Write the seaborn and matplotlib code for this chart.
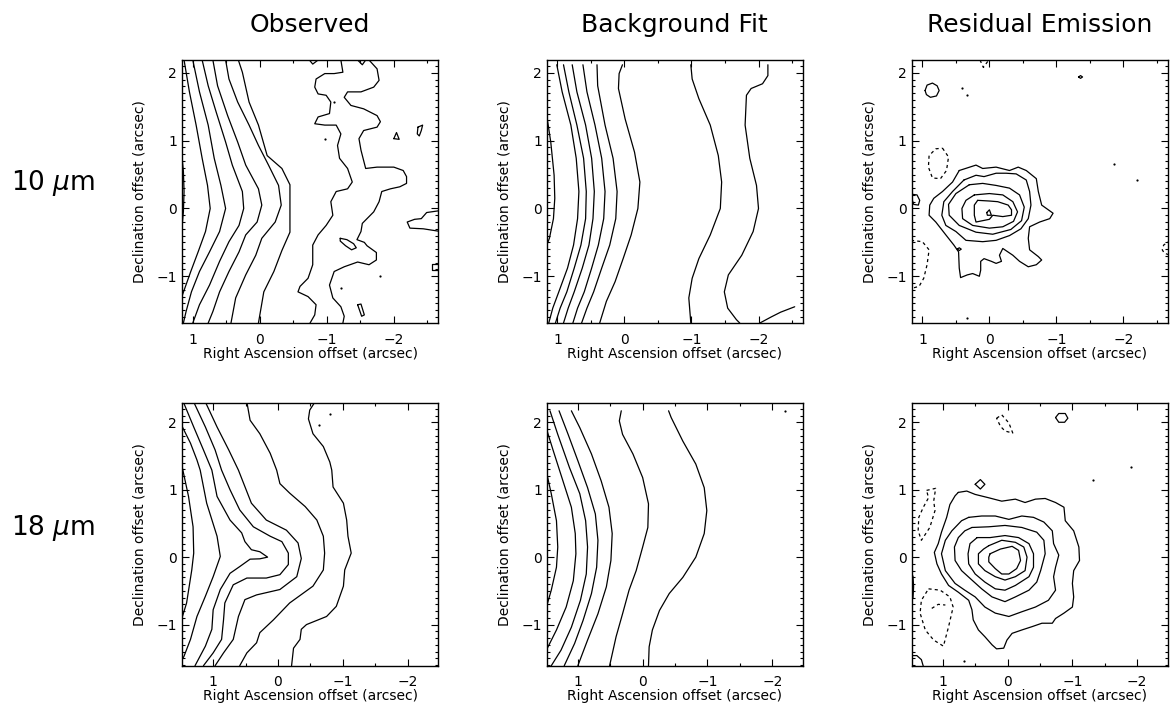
import numpy as np
import pandas as pd
import matplotlib
matplotlib.use("Agg")
import matplotlib.pyplot as plt
from matplotlib.ticker import MultipleLocator
import seaborn as sns

# contour vertices, (RA offset, Dec offset) in arcsec

# ---- 10 um, observed ----
obs10_edge = [(1.17, 0.85), (1.14, 0.55), (1.13, 0.25), (1.14, -0.05), (1.17, -0.37)]
obs10_a = [(1.13, 2.19), (1.05, 1.72), (0.95, 1.23), (0.86, 0.74), (0.78, 0.34), (0.74, 0.0), (0.81, -0.34),
           (0.92, -0.64), (1.03, -0.93), (1.12, -1.18), (1.17, -1.32)]
obs10_b = [(1.00, 2.19), (0.90, 1.72), (0.77, 1.23), (0.68, 0.74), (0.58, 0.34), (0.51, 0.0), (0.60, -0.34),
           (0.75, -0.64), (0.90, -0.93), (1.02, -1.23), (1.10, -1.52), (1.14, -1.69)]
obs10_c = [(0.86, 2.19), (0.77, 1.81), (0.65, 1.42), (0.51, 0.98), (0.41, 0.64), (0.26, 0.25), (0.24, 0.0),
           (0.31, -0.25), (0.46, -0.49), (0.60, -0.78), (0.75, -1.13), (0.90, -1.42), (1.00, -1.69)]
obs10_d = [(0.70, 2.19), (0.63, 1.81), (0.48, 1.37), (0.33, 0.98), (0.21, 0.64), (0.02, 0.29), (-0.03, 0.05),
           (0.04, -0.20), (0.21, -0.39), (0.31, -0.64), (0.46, -0.93), (0.60, -1.23), (0.70, -1.52), (0.77, -1.69)]
obs10_e = [(0.51, 2.19), (0.46, 1.91), (0.33, 1.57), (0.16, 1.23), (0.02, 0.93), (-0.13, 0.64), (-0.28, 0.34),
           (-0.32, 0.05), (-0.23, -0.20), (-0.03, -0.44), (0.06, -0.69), (0.21, -0.98), (0.36, -1.32), (0.43, -1.69)]
obs10_f = [(0.32, 2.19), (0.26, 2.01), (0.16, 1.57), (0.02, 1.23), (-0.11, 0.78), (-0.33, 0.59), (-0.45, 0.35),
           (-0.45, -0.35), (-0.33, -0.62), (-0.21, -0.93), (-0.06, -1.23), (0.02, -1.69)]
obs10_m1 = [(-1.21, 2.19), (-1.24, 2.01), (-1.11, 1.99), (-0.97, 1.99), (-0.84, 1.91), (-0.82, 1.79), (-0.87, 1.69),
            (-0.99, 1.67), (-1.06, 1.57), (-1.04, 1.40), (-0.87, 1.35), (-0.82, 1.25), (-0.97, 1.23), (-1.14, 1.23),
            (-1.21, 1.10), (-1.16, 0.93), (-1.19, 0.74), (-1.31, 0.59), (-1.38, 0.39), (-1.31, 0.29), (-1.14, 0.25),
            (-1.06, 0.10), (-1.09, -0.10), (-0.99, -0.25), (-0.87, -0.39), (-0.79, -0.54), (-0.79, -0.83),
            (-0.72, -1.03), (-0.60, -1.15), (-0.57, -1.23), (-0.72, -1.30), (-0.84, -1.42), (-0.82, -1.57),
            (-0.75, -1.69)]
obs10_m2 = [(-1.63, 2.19), (-1.75, 2.06), (-1.78, 1.89), (-1.70, 1.79), (-1.51, 1.72), (-1.31, 1.72), (-1.26, 1.64),
            (-1.36, 1.52), (-1.55, 1.47), (-1.75, 1.37), (-1.80, 1.28), (-1.75, 1.20), (-1.55, 1.15), (-1.48, 1.03),
            (-1.51, 0.86), (-1.58, 0.59), (-1.75, 0.61), (-2.00, 0.61), (-2.14, 0.56), (-2.19, 0.47), (-2.19, 0.37),
            (-2.09, 0.32), (-1.95, 0.29), (-1.82, 0.25), (-1.78, 0.10), (-1.70, -0.05), (-1.63, -0.12),
            (-1.53, -0.22), (-1.51, -0.34), (-1.45, -0.46), (-1.56, -0.50), (-1.60, -0.55), (-1.74, -0.65),
            (-1.74, -0.76), (-1.63, -0.83), (-1.46, -0.79), (-1.26, -0.86), (-1.11, -0.93), (-1.04, -1.13),
            (-1.09, -1.32), (-1.21, -1.45), (-1.26, -1.59), (-1.24, -1.69)]
obs10_t1 = [(-0.74, 2.19), (-0.79, 2.13), (-0.87, 2.19)]
obs10_t2 = [(-1.46, 2.19), (-1.53, 2.12), (-1.58, 2.19)]
obs10_redge = [(-2.70, -0.03), (-2.49, -0.06), (-2.41, -0.15), (-2.31, -0.16), (-2.20, -0.20), (-2.24, -0.29),
               (-2.44, -0.30), (-2.70, -0.34)]
obs10_rbox = [(-2.70, -0.82), (-2.57, -0.82), (-2.57, -0.91), (-2.70, -0.91)]
obs10_tri = [(-2.00, 1.03), (-2.04, 1.12), (-2.08, 1.02)]
obs10_sml = [(-2.36, 1.20), (-2.43, 1.23), (-2.41, 1.15), (-2.38, 1.07), (-2.35, 1.10)]
obs10_la = [(-1.20, -0.44), (-1.30, -0.46), (-1.40, -0.52), (-1.44, -0.58), (-1.37, -0.61), (-1.28, -0.55),
            (-1.20, -0.48)]
obs10_le = [(-1.46, -1.42), (-1.51, -1.41), (-1.56, -1.57), (-1.52, -1.59)]
obs10_dots = [(-1.80, -1.00), (-1.21, -1.18), (-0.97, 1.03), (-1.11, 1.57)]

# ---- 10 um, background fit ----
bg10_g0 = [(1.17, 1.45), (1.16, 1.37), (1.10, 0.98), (1.05, 0.49), (1.04, 0.15), (1.06, -0.15), (1.12, -0.44),
           (1.16, -0.54), (1.17, -0.60)]
bg10_g1 = [(1.01, 2.12), (0.93, 1.72), (0.80, 1.23), (0.72, 0.74), (0.68, 0.25), (0.70, -0.15), (0.76, -0.54),
           (0.85, -0.88), (0.98, -1.23), (1.07, -1.47), (1.13, -1.69)]
bg10_g2 = [(0.91, 2.12), (0.83, 1.72), (0.71, 1.23), (0.61, 0.74), (0.57, 0.25), (0.58, -0.15), (0.65, -0.54),
           (0.75, -0.88), (0.86, -1.23), (0.96, -1.47), (1.03, -1.69)]
bg10_g3 = [(0.78, 2.12), (0.71, 1.72), (0.58, 1.23), (0.49, 0.74), (0.45, 0.25), (0.47, -0.15), (0.53, -0.54),
           (0.63, -0.88), (0.75, -1.23), (0.84, -1.47), (0.91, -1.69)]
bg10_g4 = [(0.62, 2.12), (0.56, 1.72), (0.44, 1.23), (0.34, 0.74), (0.29, 0.25), (0.31, -0.15), (0.39, -0.54),
           (0.49, -0.88), (0.60, -1.23), (0.70, -1.47), (0.77, -1.69)]
bg10_g5 = [(0.41, 2.12), (0.40, 1.81), (0.29, 1.23), (0.17, 0.74), (0.11, 0.25), (0.13, -0.15), (0.22, -0.54),
           (0.34, -0.88), (0.46, -1.23), (0.56, -1.47), (0.64, -1.69)]
bg10_g6 = [(0.03, 2.12), (0.08, 1.99), (0.09, 1.77), (-0.01, 1.32), (-0.15, 0.83), (-0.23, 0.39), (-0.20, 0.0),
           (-0.10, -0.39), (0.02, -0.74), (0.14, -1.08), (0.27, -1.37), (0.37, -1.69)]
bg10_g7 = [(-0.99, 2.12), (-1.01, 1.91), (-1.11, 1.62), (-1.28, 1.23), (-1.40, 0.78), (-1.45, 0.39), (-1.43, 0.0),
           (-1.28, -0.39), (-1.11, -0.74), (-1.01, -1.03), (-0.96, -1.32), (-0.99, -1.69)]
bg10_g8 = [(-2.14, 2.12), (-2.14, 1.96), (-2.06, 1.84), (-1.89, 1.77), (-1.82, 1.67), (-1.80, 1.23), (-1.87, 0.74),
           (-1.97, 0.34), (-2.00, 0.0), (-1.92, -0.34), (-1.75, -0.69), (-1.55, -0.98), (-1.49, -1.23),
           (-1.54, -1.47), (-1.67, -1.64), (-1.72, -1.69)]
bg10_g9 = [(-2.54, -1.45), (-2.33, -1.53), (-2.19, -1.60), (-2.02, -1.69)]

# ---- 10 um, residual emission ----
res10_s1 = [(0.45, 0.56), (0.20, 0.64), (0.10, 0.59), (-0.10, 0.61), (-0.30, 0.56), (-0.43, 0.61), (-0.55, 0.56),
            (-0.70, 0.44), (-0.73, 0.25), (-0.78, 0.05), (-0.95, -0.07), (-0.90, -0.15), (-0.75, -0.20),
            (-0.60, -0.27), (-0.58, -0.44), (-0.60, -0.61), (-0.73, -0.71), (-0.78, -0.76), (-0.70, -0.83),
            (-0.58, -0.86), (-0.45, -0.78), (-0.35, -0.69), (-0.20, -0.59), (-0.15, -0.69), (-0.18, -0.78),
            (-0.10, -0.81), (-0.03, -0.78), (0.08, -0.74), (0.13, -0.78), (0.13, -0.91), (0.15, -1.00),
            (0.25, -0.96), (0.33, -0.98), (0.43, -1.02), (0.45, -0.88), (0.46, -0.64), (0.53, -0.54),
            (0.65, -0.39), (0.80, -0.20), (0.90, -0.10), (0.89, 0.05), (0.83, 0.15), (0.70, 0.25), (0.55, 0.39)]
res10_s2 = [(0.38, 0.42), (0.20, 0.49), (0.08, 0.47), (-0.10, 0.52), (-0.25, 0.52), (-0.40, 0.51), (-0.55, 0.42),
            (-0.60, 0.25), (-0.62, 0.05), (-0.58, -0.15), (-0.47, -0.30), (-0.30, -0.40), (-0.10, -0.47),
            (0.10, -0.49), (0.35, -0.47), (0.50, -0.34), (0.65, -0.25), (0.71, -0.10), (0.68, 0.10), (0.55, 0.25)]
res10_s3 = [(0.30, 0.35), (0.10, 0.37), (-0.10, 0.34), (-0.30, 0.30), (-0.45, 0.20), (-0.52, 0.02), (-0.48, -0.18),
            (-0.32, -0.31), (-0.05, -0.38), (0.20, -0.35), (0.45, -0.25), (0.60, -0.10), (0.61, 0.06), (0.50, 0.22)]
res10_s4 = [(0.225, 0.20), (0.0, 0.22), (-0.20, 0.20), (-0.35, 0.10), (-0.42, -0.05), (-0.36, -0.19), (-0.20, -0.27),
            (0.0, -0.29), (0.25, -0.25), (0.40, -0.15), (0.41, 0.0), (0.35, 0.12)]
res10_s5 = [(0.175, 0.12), (0.0, 0.11), (-0.125, 0.10), (-0.28, 0.05), (-0.33, -0.02), (-0.33, -0.10),
            (-0.20, -0.12), (-0.05, -0.10), (0.0, -0.16), (0.20, -0.20), (0.225, -0.10), (0.225, 0.05)]
res10_s6 = [(0.04, -0.06), (0.0, -0.02), (-0.03, -0.10), (0.03, -0.10)]
res10_circ = [(0.96, 1.74), (0.93, 1.82), (0.85, 1.85), (0.78, 1.81), (0.75, 1.74), (0.79, 1.66), (0.88, 1.64),
              (0.94, 1.68)]
res10_edge = [(1.16, 0.21), (1.08, 0.20), (1.04, 0.12), (1.06, 0.05), (1.13, 0.06), (1.16, 0.15)]
res10_l2 = [(-1.33, 1.94), (-1.36, 1.96), (-1.39, 1.94), (-1.36, 1.92)]
res10_l3 = [(0.48, -0.60), (0.45, -0.58), (0.42, -0.60), (0.45, -0.62)]
res10_n1 = [(0.70, 0.89), (0.61, 0.76), (0.64, 0.56), (0.73, 0.44), (0.85, 0.45), (0.91, 0.61), (0.90, 0.78),
            (0.80, 0.88)]
res10_n2 = [(1.17, -0.47), (1.00, -0.49), (0.90, -0.61), (0.93, -0.83), (0.98, -1.03), (1.05, -1.15), (1.17, -1.18)]
res10_n3 = [(0.14, 2.19), (0.09, 2.08), (0.01, 2.19)]
res10_n4 = [(-2.70, -0.47), (-2.60, -0.54), (-2.58, -0.61), (-2.61, -0.66), (-2.70, -0.69)]
res10_dots = [(0.41, 1.77), (0.33, 1.68), (-2.20, 0.42), (-1.86, 0.66), (0.33, -1.61)]

# ---- 18 um, observed ----
obs18_h0 = [(1.49, 1.39), (1.38, 0.90), (1.31, 0.45), (1.30, 0.06), (1.33, -0.19), (1.41, -0.68), (1.49, -0.93)]
obs18_a = [(1.49, 1.96), (1.35, 1.69), (1.25, 1.44), (1.20, 1.29), (1.10, 0.80), (0.94, 0.31), (0.89, 0.01),
           (1.00, -0.29), (1.12, -0.58), (1.25, -0.88), (1.35, -1.22), (1.45, -1.47), (1.49, -1.54)]
obs18_b = [(1.46, 2.30), (1.30, 1.93), (1.15, 1.59), (1.02, 1.29), (0.94, 0.90), (0.74, 0.55), (0.56, 0.36),
           (0.51, 0.23), (0.41, 0.11), (0.28, 0.08), (0.16, 0.0), (0.28, -0.025), (0.43, -0.03), (0.59, -0.14),
           (0.74, -0.24), (0.89, -0.48), (1.00, -0.78), (1.02, -1.07), (1.12, -1.32), (1.28, -1.61)]
obs18_c = [(1.30, 2.30), (1.12, 1.93), (0.97, 1.59), (0.87, 1.29), (0.74, 1.00), (0.59, 0.70), (0.38, 0.45),
           (0.12, 0.31), (-0.06, 0.23), (-0.16, 0.06), (-0.16, -0.11), (-0.03, -0.26), (0.18, -0.31),
           (0.48, -0.31), (0.69, -0.41), (0.82, -0.68), (0.84, -0.93), (0.87, -1.22), (1.00, -1.42), (1.15, -1.61)]
obs18_d = [(1.12, 2.30), (0.94, 1.93), (0.76, 1.59), (0.61, 1.29), (0.41, 0.80), (0.18, 0.55), (-0.13, 0.40),
           (-0.31, 0.21), (-0.36, -0.02), (-0.29, -0.29), (-0.03, -0.48), (0.33, -0.56), (0.51, -0.63),
           (0.61, -0.88), (0.69, -1.22), (0.84, -1.42), (0.97, -1.61)]
obs18_e = [(0.48, 2.30), (0.43, 2.03), (0.28, 1.83), (0.12, 1.54), (0.02, 1.29), (-0.03, 1.09), (-0.18, 0.95),
           (-0.42, 0.75), (-0.60, 0.55), (-0.70, 0.31), (-0.72, 0.06), (-0.70, -0.19), (-0.54, -0.43),
           (-0.18, -0.68), (0.07, -0.93), (0.28, -1.12), (0.33, -1.27), (0.48, -1.42), (0.59, -1.61)]
obs18_f = [(-0.57, 2.30), (-0.49, 2.18), (-0.47, 2.05), (-0.54, 1.83), (-0.70, 1.64), (-0.80, 1.41), (-0.83, 1.29),
           (-0.85, 1.04), (-1.01, 0.80), (-1.06, 0.55), (-1.08, 0.31), (-1.13, 0.06), (-1.03, -0.19),
           (-1.01, -0.43), (-0.90, -0.73), (-0.75, -0.88), (-0.44, -1.00), (-0.36, -1.07), (-0.34, -1.22),
           (-0.24, -1.35), (-0.21, -1.61)]
obs18_dots = [(-0.81, 2.12), (-0.64, 1.96)]

# ---- 18 um, background fit ----
bg18_k0 = [(1.50, 1.33), (1.41, 0.94), (1.33, 0.54), (1.31, 0.15), (1.33, -0.15), (1.41, -0.49), (1.50, -0.79)]
bg18_k1 = [(1.50, 1.95), (1.38, 1.58), (1.23, 1.13), (1.10, 0.74), (1.04, 0.35), (1.03, 0.05), (1.07, -0.35),
           (1.18, -0.74), (1.33, -1.08), (1.46, -1.33), (1.50, -1.40)]
bg18_k2 = [(1.43, 2.17), (1.31, 1.82), (1.13, 1.33), (0.97, 0.94), (0.88, 0.54), (0.85, 0.15), (0.87, -0.25),
           (0.96, -0.64), (1.10, -1.04), (1.26, -1.38), (1.41, -1.61)]
bg18_k3 = [(1.29, 2.17), (1.15, 1.82), (1.00, 1.43), (0.85, 1.03), (0.73, 0.64), (0.69, 0.25), (0.71, -0.15),
           (0.79, -0.54), (0.92, -0.94), (1.05, -1.28), (1.21, -1.61)]
bg18_k4 = [(1.10, 2.17), (0.97, 1.92), (0.79, 1.53), (0.64, 1.13), (0.52, 0.74), (0.47, 0.35), (0.49, -0.05),
           (0.56, -0.44), (0.69, -0.84), (0.85, -1.23), (1.00, -1.61)]
bg18_k5 = [(0.33, 2.17), (0.36, 2.02), (0.31, 1.82), (0.15, 1.53), (0.0, 1.18), (-0.09, 0.79), (-0.08, 0.44),
           (0.0, 0.15), (0.10, -0.20), (0.21, -0.49), (0.31, -0.84), (0.41, -1.18), (0.51, -1.61)]
bg18_k6 = [(-0.40, 2.17), (-0.44, 2.07), (-0.62, 1.72), (-0.82, 1.38), (-0.95, 1.03), (-0.99, 0.69), (-0.95, 0.35),
           (-0.82, 0.0), (-0.62, -0.30), (-0.41, -0.54), (-0.26, -0.79), (-0.15, -1.08), (-0.10, -1.33),
           (-0.09, -1.61)]
bg18_dots = [(-2.20, 2.17)]

# ---- 18 um, residual emission ----
res18_p1 = [(0.76, 0.96), (0.63, 0.98), (0.50, 0.93), (0.29, 0.88), (0.09, 0.83), (-0.12, 0.86), (-0.27, 0.81),
            (-0.43, 0.86), (-0.58, 0.87), (-0.74, 0.81), (-0.87, 0.74), (-0.89, 0.54), (-1.02, 0.39), (-1.10, 0.15),
            (-1.11, -0.05), (-1.02, -0.20), (-1.00, -0.39), (-1.02, -0.59), (-1.00, -0.74), (-0.87, -0.83),
            (-0.74, -0.91), (-0.69, -0.98), (-0.53, -0.98), (-0.38, -1.03), (-0.22, -1.08), (-0.07, -1.13),
            (0.01, -1.23), (0.06, -1.35), (0.17, -1.36), (0.24, -1.30), (0.35, -1.18), (0.45, -1.08), (0.53, -0.93),
            (0.55, -0.78), (0.60, -0.64), (0.76, -0.52), (0.91, -0.42), (1.02, -0.25), (1.09, -0.10), (1.13, 0.07),
            (1.07, 0.20), (1.02, 0.37), (0.94, 0.59), (0.89, 0.78), (0.81, 0.91)]
res18_p2 = [(0.60, 0.59), (0.40, 0.61), (0.19, 0.61), (-0.02, 0.56), (-0.22, 0.61), (-0.40, 0.59), (-0.56, 0.52),
            (-0.69, 0.39), (-0.71, 0.20), (-0.79, 0.03), (-0.74, -0.15), (-0.71, -0.29), (-0.74, -0.49),
            (-0.63, -0.64), (-0.43, -0.74), (-0.22, -0.81), (-0.02, -0.88), (0.19, -0.83), (0.35, -0.74),
            (0.50, -0.59), (0.66, -0.49), (0.81, -0.39), (0.96, -0.20), (1.02, 0.05), (0.96, 0.25), (0.86, 0.39),
            (0.71, 0.54)]
res18_p3 = [(0.55, 0.44), (0.29, 0.45), (0.04, 0.47), (-0.22, 0.44), (-0.45, 0.37), (-0.56, 0.25), (-0.58, 0.05),
            (-0.51, -0.20), (-0.45, -0.37), (-0.33, -0.49), (-0.12, -0.59), (0.04, -0.66), (0.24, -0.59),
            (0.40, -0.47), (0.55, -0.34), (0.71, -0.20), (0.81, -0.05), (0.82, 0.15), (0.76, 0.29), (0.66, 0.39)]
res18_p4 = [(0.47, 0.29), (0.27, 0.29), (0.04, 0.32), (-0.17, 0.29), (-0.33, 0.20), (-0.40, 0.05), (-0.40, -0.15),
            (-0.33, -0.29), (-0.12, -0.42), (0.04, -0.49), (0.19, -0.47), (0.35, -0.37), (0.50, -0.25),
            (0.60, -0.10), (0.61, 0.05), (0.58, 0.20)]
res18_p5 = [(0.29, 0.17), (0.09, 0.25), (-0.12, 0.22), (-0.25, 0.15), (-0.30, 0.0), (-0.27, -0.20), (-0.12, -0.29),
            (0.04, -0.34), (0.19, -0.29), (0.35, -0.20), (0.45, -0.10), (0.45, 0.05), (0.37, 0.12)]
res18_p6 = [(0.27, 0.05), (0.11, 0.12), (-0.07, 0.16), (-0.17, 0.10), (-0.20, -0.05), (-0.14, -0.17), (-0.02, -0.25),
            (0.09, -0.25), (0.19, -0.17), (0.29, -0.07), (0.29, 0.0)]
res18_diam = [(0.50, 1.08), (0.42, 1.15), (0.35, 1.08), (0.42, 1.01)]
res18_circ = [(-0.74, 2.07), (-0.79, 2.13), (-0.89, 2.13), (-0.93, 2.06), (-0.88, 2.00), (-0.79, 2.00)]
res18_corner = [(1.50, -1.46), (1.40, -1.46), (1.33, -1.52), (1.30, -1.62)]
res18_rect = [(1.50, -0.27), (1.46, -0.28), (1.45, -0.44), (1.46, -0.61), (1.50, -0.61)]
res18_q1 = [(0.17, 2.06), (0.09, 2.11), (-0.02, 1.99), (-0.08, 1.84), (0.04, 1.87), (0.11, 1.94)]
res18_q2 = [(1.25, 0.99), (1.11, 1.02), (1.14, 0.83), (1.12, 0.69), (1.20, 0.44), (1.33, 0.25), (1.38, 0.39),
            (1.37, 0.59), (1.30, 0.74), (1.22, 0.88)]
res18_q3 = [(1.22, -0.47), (1.04, -0.49), (0.89, -0.59), (0.84, -0.74), (0.91, -1.03), (0.99, -1.32), (1.14, -1.23),
            (1.27, -1.08), (1.35, -0.83), (1.33, -0.64)]
res18_q3in = [(1.17, -0.76), (1.07, -0.70), (0.96, -0.71)]
res18_dots = [(-1.90, 1.33), (-1.32, 1.15), (0.68, -1.54)]

col_titles = ["Observed", "Background Fit", "Residual Emission"]
row_labels = ["10 $\\mu$m", "18 $\\mu$m"]

# panel -> (kind, closed, contours)
panels = [
    [("pos", False, [obs10_edge, obs10_a, obs10_b, obs10_c, obs10_d, obs10_e, obs10_f, obs10_m1, obs10_m2,
                     obs10_t1, obs10_t2, obs10_redge, obs10_rbox]),
     ("pos", True, [obs10_tri, obs10_sml, obs10_la, obs10_le])],
    [("pos", False, [bg10_g0, bg10_g1, bg10_g2, bg10_g3, bg10_g4, bg10_g5, bg10_g6, bg10_g7, bg10_g8, bg10_g9])],
    [("pos", True, [res10_s1, res10_s2, res10_s3, res10_s4, res10_s5, res10_s6, res10_circ, res10_edge,
                    res10_l2, res10_l3]),
     ("neg", True, [res10_n1]),
     ("neg", False, [res10_n2, res10_n3, res10_n4])],
    [("pos", False, [obs18_h0, obs18_a, obs18_b, obs18_c, obs18_d, obs18_e, obs18_f])],
    [("pos", False, [bg18_k0, bg18_k1, bg18_k2, bg18_k3, bg18_k4, bg18_k5, bg18_k6])],
    [("pos", True, [res18_p1, res18_p2, res18_p3, res18_p4, res18_p5, res18_p6, res18_diam, res18_circ]),
     ("pos", False, [res18_corner, res18_rect]),
     ("neg", True, [res18_q1, res18_q2, res18_q3]),
     ("neg", False, [res18_q3in])],
]
panel_dots = [obs10_dots, [], res10_dots, obs18_dots, bg18_dots, res18_dots]


def to_frame(groups):
    rows = []
    cid = 0
    for kind, closed, contours in groups:
        for pts in contours:
            pts = list(pts)
            if closed:
                pts = pts + [pts[0]]
            for ra, dec in pts:
                rows.append((cid, kind, ra, dec))
            cid += 1
    return pd.DataFrame(rows, columns=["cid", "kind", "ra", "dec"])


sns.set_style("ticks")
plt.rcParams["font.family"] = ["DejaVu Sans"]
plt.rcParams["mathtext.fontset"] = "dejavusans"
plt.rcParams.update({"text.color": "black", "axes.labelcolor": "black",
                     "xtick.color": "black", "ytick.color": "black"})

fig = plt.figure(figsize=(11.7, 7.07), dpi=100)

lefts = [0.1556, 0.4673, 0.7792]
bottoms = [0.5431, 0.0584]
w, h = 0.2188, 0.372
lims = [((1.16, -2.66), (-1.69, 2.19)), ((1.48, -2.47), (-1.61, 2.29))]

for i, groups in enumerate(panels):
    r, c = divmod(i, 3)
    ax = fig.add_axes([lefts[c], bottoms[r], w, h])
    df = to_frame(groups)
    sns.lineplot(data=df, x="ra", y="dec", units="cid", estimator=None, sort=False,
                 style="kind", dashes={"pos": "", "neg": (2.5, 2.5)}, color="black",
                 linewidth=0.9, legend=False, ax=ax)
    if panel_dots[i]:
        d = np.array(panel_dots[i])
        ax.plot(d[:, 0], d[:, 1], "o", color="black", ms=1.6, mew=0)
    ax.set_xlim(*lims[r][0])
    ax.set_ylim(*lims[r][1])
    ax.xaxis.set_major_locator(MultipleLocator(1))
    ax.xaxis.set_minor_locator(MultipleLocator(0.5))
    ax.yaxis.set_major_locator(MultipleLocator(1))
    ax.yaxis.set_minor_locator(MultipleLocator(0.1))
    ax.tick_params(which="both", direction="in", top=True, right=True, colors="black", width=0.8)
    ax.tick_params(which="major", length=5)
    ax.tick_params(which="minor", length=2.5)
    ax.tick_params(axis="x", which="major", pad=7, labelsize=10)
    ax.tick_params(axis="y", which="major", pad=3.5, labelsize=10)
    for sp in ax.spines.values():
        sp.set_linewidth(1.0)
        sp.set_color("black")
    ax.set_xlabel("Right Ascension offset (arcsec)", fontsize=10, labelpad=0)
    ax.set_ylabel("Declination offset (arcsec)", fontsize=10, labelpad=7)
    if r == 0:
        ax.set_title(col_titles[c], fontsize=18, pad=20)

fig.text(0.009, 0.741, row_labels[0], fontsize=19, va="center", ha="left")
fig.text(0.009, 0.253, row_labels[1], fontsize=19, va="center", ha="left")

fig.savefig("out.png", dpi=100)
